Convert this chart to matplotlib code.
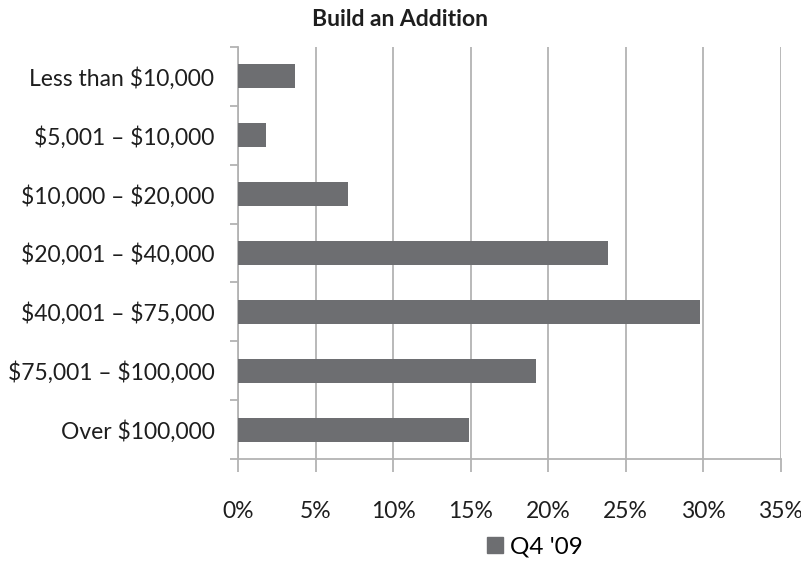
import numpy as np
import matplotlib
matplotlib.use("Agg")
import matplotlib.pyplot as plt
from matplotlib.patches import Patch

categories = ["Less than \\$10,000", "\\$5,001 – \\$10,000", "\\$10,000 – \\$20,000",
              "\\$20,001 – \\$40,000", "\\$40,001 – \\$75,000", "\\$75,001 – \\$100,000",
              "Over \\$100,000"]
share = [3.7, 1.8, 7.1, 23.9, 29.8, 19.2, 14.9]   # percent of respondents
series = "Q4 '09"
xticks = [0, 5, 10, 15, 20, 25, 30, 35]

BAR = "#6d6e71"
GRID = "#b3b3b3"
TXT = "#1e1e1e"
plt.rcParams["font.family"] = ["Lato", "DejaVu Sans"]

fig = plt.figure(figsize=(8.01, 5.62), dpi=100)
ax = fig.add_axes([238 / 801, 1 - 459 / 562, (780.5 - 238) / 801, (459 - 47) / 562])

y = np.arange(len(categories))
ax.barh(y, share, height=0.41, color=BAR, zorder=3)
ax.set_ylim(len(categories) - 0.5, -0.5)
ax.set_xlim(0, 35)

ax.set_xticks(xticks)
ax.set_xticklabels([f"{t}%" for t in xticks], fontsize=16.5, color=TXT)
ax.xaxis.grid(True, color=GRID, lw=1.3, zorder=0)
ax.tick_params(axis="x", length=9, width=1.3, color=GRID, pad=21)

ax.set_yticks(y)
ax.set_yticklabels(categories, fontsize=16.5, color=TXT)
ax.set_yticks(np.arange(-0.5, len(categories)), minor=True)
ax.tick_params(axis="y", which="major", length=0, pad=17)
ax.tick_params(axis="y", which="minor", length=6, width=1.3, color=GRID)

for s in ("top", "right"):
    ax.spines[s].set_visible(False)
for s in ("left", "bottom"):
    ax.spines[s].set_color(GRID)
    ax.spines[s].set_linewidth(1.3)

fig.text(0.5, 1 - 20 / 562, "Build an Addition", ha="center", va="center",
         fontsize=16.5, fontweight="bold", color=TXT)

fig.legend(handles=[Patch(color=BAR, label=series)], loc="center",
           bbox_to_anchor=(535 / 801, 1 - 547 / 562), frameon=False,
           fontsize=17.5, handlelength=0.65, handleheight=0.65, handletextpad=0.3)

fig.savefig("out.png", dpi=100)
